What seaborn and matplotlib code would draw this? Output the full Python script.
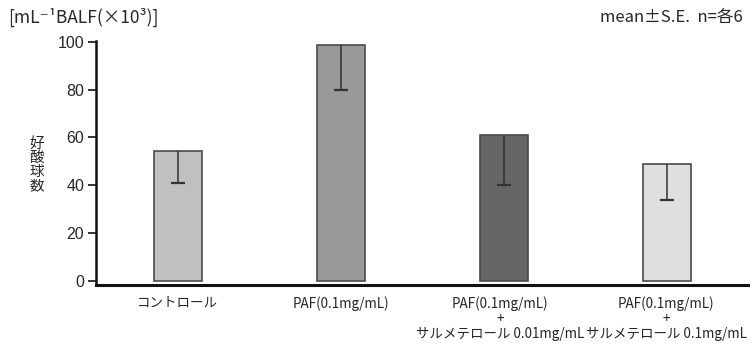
import matplotlib
matplotlib.use("Agg")
import matplotlib.pyplot as plt
import matplotlib.transforms as mtransforms
import seaborn as sns
import pandas as pd

categories = ["コントロール", "PAF(0.1mg/mL)",
              "PAF(0.1mg/mL)\n+\nサルメテロール 0.01mg/mL",
              "PAF(0.1mg/mL)\n+\nサルメテロール 0.1mg/mL"]
means = [54.5, 98.5, 61.0, 49.0]
se = [13.5, 18.5, 21.0, 15.0]
colors = ["#c0c0c0", "#999999", "#666666", "#dfdfdf"]
yticks = [0, 20, 40, 60, 80, 100]

sns.set_style("white")
plt.rcParams['font.family'] = ['Noto Sans CJK JP', 'DejaVu Sans']

df = pd.DataFrame({"cat": categories, "val": means})

fig = plt.figure(figsize=(7.5, 3.44), dpi=100)
ax = fig.add_axes([0.128, 0.1715, 0.8707, 0.7095])

sns.barplot(data=df, x="cat", y="val", hue="cat", palette=colors, legend=False,
            width=0.294, edgecolor="#4a4a4a", linewidth=1.2, ax=ax, errorbar=None)

_, caps, _ = ax.errorbar(range(len(means)), means, yerr=[se, [0] * len(se)], fmt="none",
                         ecolor="#333333", elinewidth=1.1, capsize=5, capthick=1.6)
if len(caps) > 1:
    caps[1].set_visible(False)

ax.set_xlim(-0.5, 3.5)
ax.set_ylim(-1.7, 100.3)
ax.set_yticks(yticks)
ax.set_yticklabels([str(t) for t in yticks], fontsize=11.5, family=['Liberation Sans'])
ax.set_xlabel("")
ax.set_ylabel("")
ax.set_xticks(range(len(categories)))
ax.set_xticklabels(categories, fontsize=9.7, linespacing=1.08)
ax.set_xticks([0.5, 1.5, 2.5], minor=True)
ax.tick_params(axis="x", which="major", length=0, pad=8)
ax.tick_params(axis="x", which="minor", direction="in", length=5, width=1, color="#555555")
ax.tick_params(axis="y", which="major", direction="out", length=6, width=1.2,
               color="#111111", left=True, pad=2.5)

labels = ax.get_xticklabels()
for lab, dx in zip(labels, [0, 0, -4, -1]):
    lab.set_transform(lab.get_transform() +
                      mtransforms.ScaledTranslation(dx / 100, 0, fig.dpi_scale_trans))

for s in ["top", "right"]:
    ax.spines[s].set_visible(False)
ax.spines["left"].set_linewidth(1.8)
ax.spines["bottom"].set_linewidth(2.2)
ax.spines["left"].set_color("#111111")
ax.spines["bottom"].set_color("#111111")

fig.text(0.011, 0.95, "[mL⁻¹BALF(×10³)]", fontsize=12.5, va="center", ha="left")
fig.text(0.99, 0.95, "mean±S.E.  n=各6", fontsize=12, va="center", ha="right")
fig.text(0.049, 0.52, "\n".join("好酸球数"), fontsize=10.5, va="center", ha="center",
         linespacing=1.0)

fig.savefig("out.png", dpi=100, facecolor="white")
